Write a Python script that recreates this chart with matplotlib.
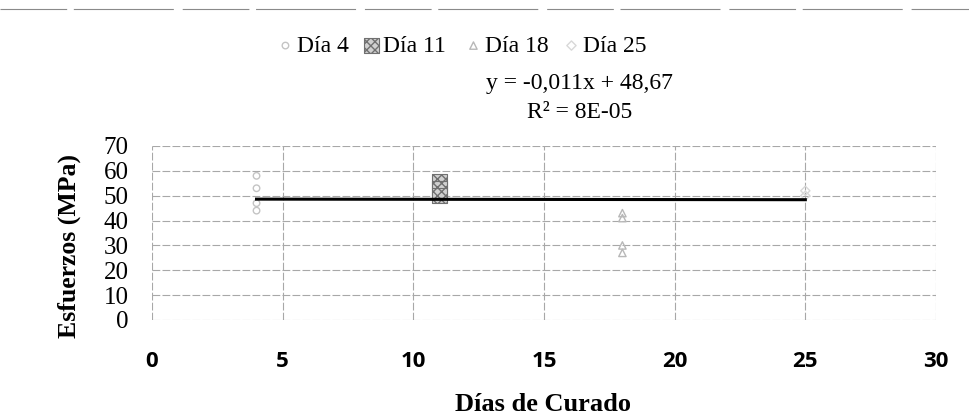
import matplotlib
matplotlib.use("Agg")
import matplotlib.pyplot as plt
import numpy as np
from matplotlib.lines import Line2D

# ---- data ----
series_names = ["Día 4", "Día 11", "Día 18", "Día 25"]
dia4_x = [4, 4, 4, 4]
dia4_y = [58, 53, 47, 44]
dia11_x = [11, 11, 11]
dia11_y = [56, 53, 50]
dia18_x = [18, 18, 18, 18]
dia18_y = [43, 41, 30, 27]
dia25_x = [25, 25]
dia25_y = [52, 50]
trend_slope = -0.011
trend_intercept = 48.67
eq_text = "y = -0,011x + 48,67"
r2_text = "R² = 8E-05"
xticks = [0, 5, 10, 15, 20, 25, 30]
yticks = [0, 10, 20, 30, 40, 50, 60, 70]

serif = ["Liberation Serif", "DejaVu Serif"]
sans = ["Open Sans", "DejaVu Sans"]

W, H = 969, 419
fig = plt.figure(figsize=(W/100, H/100), dpi=100)
ax = fig.add_axes([152/W, 1-320/H, (936-152)/W, (320-146)/H])

ax.set_xlim(0, 30)
ax.set_ylim(0, 70)
ax.set_xticks(xticks)
ax.set_yticks(yticks)
for s in ax.spines.values():
    s.set_visible(False)
ax.tick_params(length=0)
ax.tick_params(axis='x', pad=22)
ax.tick_params(axis='y', pad=17)
ax.set_xticklabels([str(v) for v in xticks], fontfamily=sans, fontweight='bold', fontsize=16)
ax.set_yticklabels([str(v) for v in yticks], fontfamily=serif, fontsize=18)
ax.grid(True, color='#a8a8a8', linestyle=(0, (7, 2)), linewidth=0.8)
ax.set_axisbelow(True)

# scatter series
h4 = ax.scatter(dia4_x, dia4_y, s=22, marker='o', facecolor='none', edgecolor='#c4c4c4', linewidths=1.0, zorder=3)
h11 = ax.scatter(dia11_x, dia11_y, s=110, marker='s', facecolor='#d0d0d0', edgecolor='#707070', hatch='xxxx', linewidths=0.8, zorder=3)
h18 = ax.scatter(dia18_x, dia18_y, s=28, marker='^', facecolor='none', edgecolor='#b8b8b8', linewidths=1.0, zorder=3)
h25 = ax.scatter(dia25_x, dia25_y, s=22, marker='D', facecolor='none', edgecolor='#d8d8d8', linewidths=1.0, zorder=3)

# trend line
all_x = np.array(dia4_x + dia11_x + dia18_x + dia25_x, dtype=float)
tx = np.array([all_x.min(), all_x.max()])
ax.plot(tx, trend_slope * tx + trend_intercept, color='black', linewidth=2.2, zorder=4)

# axis labels
fig.text(69/W, 1-246/H, "Esfuerzos (MPa)", rotation=90, ha='center', va='center',
         fontfamily=serif, fontweight='bold', fontsize=18.5)
fig.text(543/W, 1-404/H, "Días de Curado", ha='center', va='center',
         fontfamily=serif, fontweight='bold', fontsize=19)

# legend entries (placed individually like the original)
leg_left = [276, 362, 464, 562]
for handle, name, lx in zip([h4, h11, h18, h25], series_names, leg_left):
    lg = fig.legend([handle], [name], loc='center left', bbox_to_anchor=(lx/W, 1-46/H),
                    frameon=False, prop={'family': serif, 'size': 17},
                    handletextpad=0.1, handlelength=0.8, borderpad=0, borderaxespad=0)

# trendline equation
fig.text(579/W, 1-83/H, eq_text, ha='center', va='center', fontfamily=serif, fontsize=17)
fig.text(580/W, 1-112/H, r2_text, ha='center', va='center', fontfamily=serif, fontsize=17)

# scan artifact: faint dashed line at top
fig.add_artist(Line2D([0.0, 1.0], [1-9/H, 1-9/H], color='#8a8a8a', linewidth=0.8,
                      linestyle=(0, (60, 6, 90, 8)), transform=fig.transFigure))

fig.savefig("out.png", dpi=100)
